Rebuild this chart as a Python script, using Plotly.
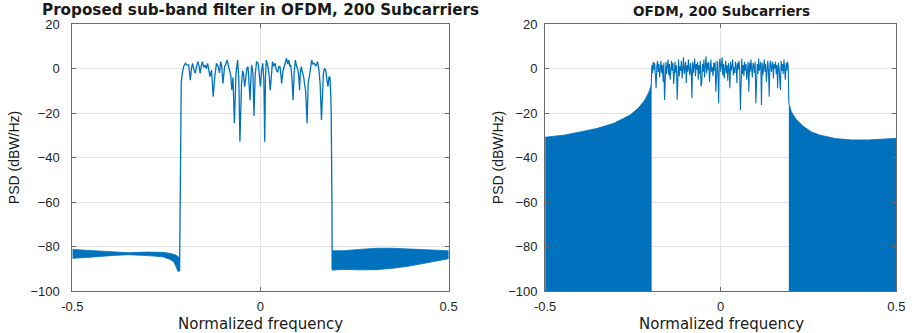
import numpy as np
import plotly.graph_objects as go

BLUE = "#0072BD"
Y_MIN, Y_MAX = -100, 20
X_MIN, X_MAX = -0.5, 0.5
Y_TICKS = [-100, -80, -60, -40, -20, 0, 20]
X_TICKS = [-0.5, 0, 0.5]
X_TICK_TEXT = ["-0.5", "0", "0.5"]

TITLE_LEFT = "Proposed sub-band filter in OFDM, 200 Subcarriers"
TITLE_RIGHT = "OFDM, 200 Subcarriers"
X_LABEL = "Normalized frequency"
Y_LABEL = "PSD (dBW/Hz)"

# ---------- Left panel: proposed sub-band filter ----------
# lower stop-band (thin band)
LSB_F = [-0.5, -0.47, -0.43, -0.39, -0.35, -0.30, -0.26, -0.24, -0.23, -0.225, -0.219, -0.215]
LSB_HI = [-81.3, -81.6, -81.9, -82.6, -82.8, -82.5, -82.6, -83.1, -83.4, -83.8, -84.6, -85.0]
LSB_LO = [-85.3, -85.0, -84.6, -84.0, -83.7, -84.1, -84.6, -85.8, -87.0, -88.8, -91.3, -91.0]
# upper stop-band (thick band)
USB_F = [0.190, 0.221, 0.264, 0.308, 0.351, 0.396, 0.438, 0.481, 0.5]
USB_HI = [-81.9, -81.9, -81.3, -80.8, -80.8, -81.1, -81.5, -81.8, -81.9]
USB_LO = [-90.6, -90.3, -90.5, -90.4, -89.8, -88.8, -87.3, -86.1, -85.5]
# pass-band trace
PB_F = [-0.2150, -0.2135, -0.2124, -0.2105, -0.2080, -0.2040, -0.1994, -0.1950, -0.1907, -0.1864,
        -0.1830, -0.1803, -0.1770, -0.1734, -0.1700, -0.1664, -0.1630, -0.1604, -0.1570, -0.1543,
        -0.1510, -0.1474, -0.1440, -0.1404, -0.1370, -0.1344, -0.1300, -0.1257, -0.1214, -0.1170,
        -0.1127, -0.1090, -0.1058, -0.1030, -0.0997, -0.0953, -0.0920, -0.0884, -0.0850, -0.0823,
        -0.0790, -0.0763, -0.0730, -0.0693, -0.0650, -0.0607, -0.0575, -0.0546, -0.0503, -0.0470,
        -0.0451, -0.0420, -0.0390, -0.0360, -0.0330, -0.0300, -0.0277, -0.0250, -0.0234, -0.0200,
        -0.0173, -0.0140, -0.0104, -0.0061, -0.0030, 0.0000, 0.0030, 0.0061, 0.0090, 0.0113,
        0.0135, 0.0156, 0.0199, 0.0230, 0.0260, 0.0290, 0.0321, 0.0355, 0.0390, 0.0425,
        0.0459, 0.0490, 0.0520, 0.0545, 0.0563, 0.0600, 0.0633, 0.0665, 0.0693, 0.0725,
        0.0754, 0.0780, 0.0806, 0.0840, 0.0867, 0.0895, 0.0927, 0.0960, 0.0997, 0.1020,
        0.1040, 0.1060, 0.1083, 0.1105, 0.1127, 0.1150, 0.1170, 0.1200, 0.1239, 0.1270,
        0.1300, 0.1330, 0.1361, 0.1395, 0.1430, 0.1475, 0.1517, 0.1550, 0.1586, 0.1621,
        0.1650, 0.1673, 0.1700, 0.1734, 0.1765, 0.1794, 0.1820, 0.1846, 0.1870, 0.1881,
        0.1900, 0.1907]
PB_V = [-91.0, -60.0, -20.0, -6.0, -2.5, 1.0, 2.3, 1.5, 1.6, -5.2,
        0.5, 2.3, -0.5, -2.2, 1.0, 3.1, 0.8, -2.2, 1.5, 3.1,
        0.5, 1.6, 0.0, 2.3, -1.0, -3.7, -0.7, -12.7, -3.7, 2.3,
        0.8, -2.0, 3.1, 1.0, -6.7, 0.8, 2.0, 3.8, 1.0, -0.7,
        -3.0, -9.7, -4.0, -24.6, -2.2, 3.8, -5.0, -32.9, -6.7, -1.0,
        -2.2, -8.2, -5.0, 0.0, 0.8, -6.0, -14.2, -3.0, 1.6, -2.0,
        -21.3, -3.0, 3.1, 2.3, -3.0, -8.2, -1.0, 2.3, -5.0, -32.9,
        -3.0, 3.8, 0.8, -3.0, -9.7, -1.0, 3.1, 1.0, 2.3, -1.0,
        -1.5, 1.0, 0.8, -3.0, -6.7, -1.0, 0.8, 3.0, 4.6, 2.0,
        3.8, 1.0, 1.6, -5.0, -14.2, -2.0, 3.8, 1.0, -0.7, -4.0,
        -9.7, -2.0, 0.8, -1.0, -2.2, -4.0, -6.7, -10.0, -24.6, -6.0,
        -3.7, 0.5, 3.8, 2.0, 2.3, 1.0, 3.1, 0.0, -6.7, -23.1,
        -5.0, -2.2, 0.0, -0.7, -5.0, -8.2, -4.0, -3.7, -12.0, -21.6,
        -60.0, -90.5]

# ---------- Right panel: plain OFDM ----------
OL_F = [-0.5, -0.444, -0.397, -0.351, -0.304, -0.258, -0.235, -0.216, -0.204, -0.198]
OL_ENV = [-30.9, -29.9, -28.4, -26.9, -24.6, -20.9, -17.9, -14.2, -10.4, -7.4]
OR_F = [0.194, 0.201, 0.215, 0.234, 0.257, 0.281, 0.327, 0.373, 0.420, 0.466, 0.5]
OR_ENV = [-15.7, -19.4, -22.9, -25.8, -28.4, -29.9, -31.5, -32.1, -32.1, -31.7, -31.4]
OPB_START, OPB_STOP = -0.196, 0.192
OPB_V = [1.5, -2.0, 3.0, -0.5, 2.5, -3.5, -8.9, 1.0, 3.5, -1.5,
         2.0, -4.0, 0.5, 3.5, -2.0, 1.5, -6.0, 2.5, -14.2, 1.0,
         3.0, -2.5, 0.0, 4.0, -3.0, 2.0, -5.0, 1.0, 3.5, -1.0,
         2.5, -7.0, 0.5, 3.0, -2.0, 1.5, -14.0, 2.0, 4.0, -3.5,
         1.0, -1.0, 3.5, -4.5, 2.0, 5.0, -2.5, 0.5, 3.0, -6.5,
         1.5, -1.5, 4.0, 0.0, -3.0, 2.5, -1.0, -13.4, 3.0, -2.0,
         1.0, 4.5, -3.5, 2.0, -0.5, 3.0, -5.0, 1.5, -2.5, 3.5,
         -8.0, -6.5, 2.0, -1.5, 4.0, -4.0, 1.0, 5.5, -2.0, 2.5,
         -0.5, 3.0, -6.0, 1.5, 4.0, -1.5, 0.5, -3.5, 2.5, -1.0,
         3.0, -10.4, 1.0, 3.5, -2.0, -15.6, 2.5, 4.5, -1.5, 1.0,
         5.0, -3.0, 2.0, -4.5, 0.5, 3.5, -2.0, 1.5, -5.5, 2.5,
         0.0, -8.9, 3.0, -1.0, 1.0, 4.0, -3.0, 0.5, -2.0, 3.0,
         1.0, -6.5, 2.5, -0.5, 3.5, 0.0, -18.6, 2.0, 4.5, -2.5,
         1.5, -3.5, 3.0, -1.0, 2.0, -5.0, 1.0, 3.0, -10.4, 2.5,
         -1.5, 4.0, 0.0, -4.0, 2.5, 1.5, -2.0, 3.0, -15.6, 1.0,
         2.0, -2.5, 4.5, -1.0, 0.5, 3.0, -16.4, 2.5, -3.0, 1.5,
         4.0, -1.5, 2.0, -6.0, 0.5, 3.5, -1.0, -12.7, 2.0, 3.5,
         -1.5, 1.0, 3.0, -4.5, 2.0, 0.0, 3.0, -2.5, 1.5, -8.9,
         2.5, 0.5, -3.0, -9.7, 3.5, -1.0, 2.0, -2.5, 4.0, 0.5,
         -5.0, 2.5, -1.0, 3.0, 1.5]
OPB_F = list(np.linspace(OPB_START, OPB_STOP, len(OPB_V)))

fig = go.Figure()

# left panel
fig.add_trace(go.Scatter(x=LSB_F + LSB_F[::-1], y=LSB_HI + LSB_LO[::-1], fill="toself",
                         fillcolor=BLUE, line=dict(color=BLUE, width=0.8), mode="lines",
                         xaxis="x", yaxis="y", hoverinfo="skip"))
fig.add_trace(go.Scatter(x=USB_F + USB_F[::-1], y=USB_HI + USB_LO[::-1], fill="toself",
                         fillcolor=BLUE, line=dict(color=BLUE, width=0.8), mode="lines",
                         xaxis="x", yaxis="y", hoverinfo="skip"))
fig.add_trace(go.Scatter(x=PB_F, y=PB_V, mode="lines", line=dict(color=BLUE, width=1.3),
                         xaxis="x", yaxis="y"))

# right panel
fig.add_trace(go.Scatter(x=OL_F + OL_F[::-1], y=OL_ENV + [Y_MIN] * len(OL_F), fill="toself",
                         fillcolor=BLUE, line=dict(color=BLUE, width=0.8), mode="lines",
                         xaxis="x2", yaxis="y2", hoverinfo="skip"))
fig.add_trace(go.Scatter(x=OR_F + OR_F[::-1], y=OR_ENV + [Y_MIN] * len(OR_F), fill="toself",
                         fillcolor=BLUE, line=dict(color=BLUE, width=0.8), mode="lines",
                         xaxis="x2", yaxis="y2", hoverinfo="skip"))
fig.add_trace(go.Scatter(x=[OL_F[-1]] + OPB_F + [OR_F[0]], y=[OL_ENV[-1]] + OPB_V + [OR_ENV[0]],
                         mode="lines", line=dict(color=BLUE, width=1.1), xaxis="x2", yaxis="y2"))

W, H = 920, 333
def px(x):
    return x / W
def py(y):
    return 1 - y / H

tickfont = dict(family="Liberation Sans, Arial, sans-serif", size=13, color="#262626")
ylab_font = dict(family="Liberation Sans, Arial", size=14, color="#1a1a1a")
common_x = dict(range=[X_MIN, X_MAX], tickvals=X_TICKS, ticktext=X_TICK_TEXT, showgrid=True,
                gridcolor="#e3e3e3", gridwidth=1, zeroline=False, showline=True, linecolor="#6b6b6b",
                linewidth=1, mirror="ticks", ticks="inside", ticklen=4, tickcolor="#6b6b6b",
                tickfont=tickfont, fixedrange=True, ticklabelstandoff=3)
common_y = dict(range=[Y_MIN, Y_MAX], tickvals=Y_TICKS, showgrid=True, gridcolor="#e3e3e3",
                gridwidth=1, zeroline=False, showline=True, linecolor="#6b6b6b", linewidth=1,
                mirror="ticks", ticks="inside", ticklen=4, tickcolor="#6b6b6b", tickfont=tickfont,
                fixedrange=True)

fig.update_layout(
    width=W, height=H, margin=dict(l=0, r=0, t=0, b=0), showlegend=False,
    paper_bgcolor="white", plot_bgcolor="white",
    xaxis=dict(domain=[px(62.7), px(447.3)], anchor="y", **common_x),
    yaxis=dict(domain=[py(291), py(24)], anchor="x", ticklabelstandoff=9,
               title=dict(text=Y_LABEL, font=ylab_font, standoff=7), automargin=False, **common_y),
    xaxis2=dict(domain=[px(546), px(905)], anchor="y2", **common_x),
    yaxis2=dict(domain=[py(291), py(24)], anchor="x2", ticklabelstandoff=4,
                title=dict(text=Y_LABEL, font=ylab_font, standoff=1), automargin=False, **common_y),
)

title_font_l = dict(family="DejaVu Sans", size=15.2, color="#1a1a1a")
title_font_r = dict(family="DejaVu Sans", size=13.6, color="#1a1a1a")
xlab_font = dict(family="DejaVu Sans", size=15, color="#1a1a1a")
anns = [
    dict(text="<b>" + TITLE_LEFT + "</b>", x=px(255), y=py(10), font=title_font_l),
    dict(text="<b>" + TITLE_RIGHT + "</b>", x=px(726), y=py(11), font=title_font_r),
    dict(text=X_LABEL, x=px(255), y=py(324), font=xlab_font),
    dict(text=X_LABEL, x=px(726), y=py(324), font=xlab_font),
]
for a in anns:
    fig.add_annotation(xref="paper", yref="paper", showarrow=False, xanchor="center",
                       yanchor="middle", **a)

fig.write_html("out.html")
